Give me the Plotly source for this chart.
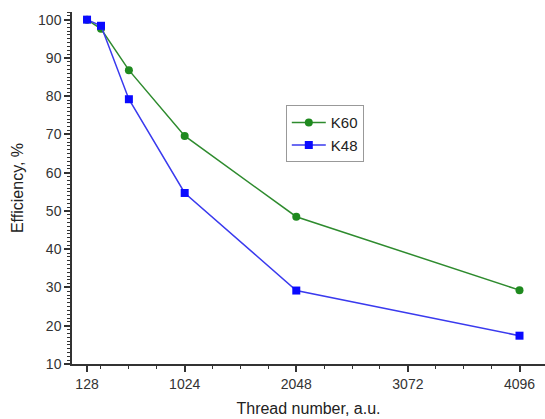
import plotly.graph_objects as go

threads = [128, 256, 512, 1024, 2048, 4096]
k60 = [100.0, 97.6, 86.8, 69.6, 48.5, 29.3]
k48 = [100.0, 98.4, 79.2, 54.7, 29.2, 17.4]
x_ticks = [128, 1024, 2048, 3072, 4096]

fig = go.Figure()
fig.add_trace(go.Scatter(
    x=threads, y=k60, name="K60", mode="lines+markers",
    line=dict(color="#2e8b2e", width=1.5),
    marker=dict(symbol="circle", size=8, color="#1f8a1f"),
))
fig.add_trace(go.Scatter(
    x=threads, y=k48, name="K48", mode="lines+markers",
    line=dict(color="#3a3aee", width=1.5),
    marker=dict(symbol="square", size=8, color="#0a0aff"),
))

font = dict(family="Liberation Sans, Arial, sans-serif", color="#333333")
fig.update_layout(
    width=545, height=419,
    margin=dict(l=72, r=0, t=12, b=55),
    paper_bgcolor="white", plot_bgcolor="white",
    font=dict(**font, size=14),
    showlegend=True,
    legend=dict(
        x=0.452, y=0.735, xanchor="left", yanchor="top",
        bordercolor="#999999", borderwidth=1, bgcolor="white",
        font=dict(size=15, color="#222222"),
        itemwidth=34, tracegroupgap=0,
    ),
    xaxis=dict(
        range=[-10, 4330], tickvals=x_ticks, ticktext=[str(v) for v in x_ticks],
        showgrid=False, zeroline=False, showline=True, linecolor="#333333", linewidth=1.5,
        ticks="outside", ticklen=6, tickwidth=1.5, tickcolor="#333333",
        minor=dict(tickvals=[256, 512, 768, 1280, 1536, 1792, 2304, 2560, 2816, 3328, 3584, 3840, 4352],
                   ticks="outside", ticklen=3, tickwidth=1, tickcolor="#333333"),
        title=dict(text="Thread number, a.u.", font=dict(size=16, color="#222222"), standoff=12),
        tickfont=dict(size=14, color="#333333"),
    ),
    yaxis=dict(
        range=[10, 102], tickvals=[10, 20, 30, 40, 50, 60, 70, 80, 90, 100],
        showgrid=False, zeroline=False, showline=True, linecolor="#333333", linewidth=1.5,
        ticks="outside", ticklen=6, tickwidth=1.5, tickcolor="#333333",
        minor=dict(dtick=1, tick0=10, ticks="outside", ticklen=3, tickwidth=1, tickcolor="#333333"),
        title=dict(text="Efficiency, %", font=dict(size=16, color="#222222"), standoff=10),
        tickfont=dict(size=14, color="#333333"),
    ),
)

fig.write_html("out.html")
